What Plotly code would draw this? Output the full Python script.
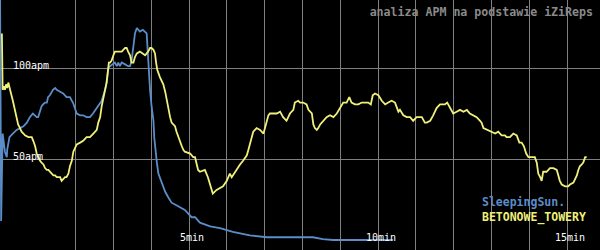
import plotly.graph_objects as go

# SleepingSun. (blue)  time in minutes, APM
sleeping_t = [0.00, 0.03, 0.07, 0.11, 0.13, 0.18, 0.19, 0.25, 0.31, 0.34, 0.44, 0.53, 0.62, 0.71, 0.79,
              0.87, 0.93, 0.97, 1.01, 1.06, 1.10, 1.14, 1.19, 1.24, 1.27, 1.32, 1.37, 1.40, 1.46, 1.50,
              1.59, 1.67, 1.76, 1.85, 1.90, 1.93, 1.98, 2.03, 2.12, 2.20, 2.29, 2.38, 2.46, 2.56, 2.65,
              2.69, 2.78, 2.82, 2.85, 2.87, 2.91, 2.99, 3.04, 3.09, 3.13, 3.17, 3.22, 3.31, 3.39, 3.44,
              3.48, 3.53, 3.57, 3.62, 3.66, 3.70, 3.78, 3.84, 3.88, 3.90, 3.92, 3.95, 3.97, 4.01, 4.06,
              4.08, 4.12, 4.15, 4.19, 4.28, 4.37, 4.45, 4.54, 4.63, 4.81, 4.89, 4.98, 5.07, 5.16, 5.29,
              5.56, 5.82, 6.16, 6.61, 7.06, 7.49, 8.28, 8.54, 8.81, 10.40]
sleeping_apm = [150, 16, 64, 57, 54, 51, 55, 62, 63, 64, 66, 67, 68, 70, 73,
                75, 74, 73, 73, 77, 79, 80, 81, 81, 84, 85, 87, 88, 89, 88,
                87, 86, 84, 84, 82, 81, 78, 75, 74, 74, 73, 73, 75, 78, 81,
                82, 88, 92, 97, 100, 101, 102, 103, 101, 103, 101, 103, 102, 101, 101,
                104, 112, 119, 122, 121, 120, 121, 120, 119, 112, 103, 95, 88, 79, 71,
                62, 53, 48, 42, 37, 32, 29, 26, 25, 23, 22, 20, 18, 18, 15,
                13, 12, 10, 8, 7, 7, 7, 6, 5.5, 5.5]

# BETONOWE_TOWERY (yellow)
beton_t = [0.05, 0.07, 0.11, 0.13, 0.16, 0.19, 0.22, 0.25, 0.28, 0.34, 0.37, 0.40, 0.44, 0.48, 0.53,
           0.57, 0.62, 0.66, 0.75, 0.79, 0.84, 0.88, 0.93, 0.97, 1.01, 1.06, 1.10, 1.15, 1.19, 1.24,
           1.28, 1.32, 1.37, 1.41, 1.46, 1.50, 1.54, 1.59, 1.63, 1.67, 1.72, 1.76, 1.81, 1.85, 1.90,
           1.94, 1.98, 2.03, 2.12, 2.20, 2.29, 2.38, 2.47, 2.56, 2.60, 2.65, 2.69, 2.73, 2.78, 2.82,
           2.87, 2.88, 2.91, 2.95, 3.00, 3.04, 3.13, 3.22, 3.31, 3.35, 3.39, 3.44, 3.48, 3.53, 3.57,
           3.62, 3.70, 3.79, 3.84, 3.88, 3.92, 3.97, 4.01, 4.06, 4.10, 4.13, 4.16, 4.23, 4.28, 4.32,
           4.37, 4.41, 4.45, 4.50, 4.54, 4.63, 4.67, 4.72, 4.76, 4.81, 4.85, 4.89, 5.03, 5.11, 5.16,
           5.24, 5.29, 5.42, 5.50, 5.60, 5.63, 5.73, 5.82, 5.90, 6.00, 6.08, 6.13, 6.16, 6.26, 6.35,
           6.43, 6.53, 6.57, 6.61, 6.66, 6.70, 6.79, 6.88, 6.97, 7.01, 7.06, 7.10, 7.14, 7.32, 7.41,
           7.45, 7.49, 7.58, 7.63, 7.67, 7.76, 7.80, 7.89, 7.94, 8.02, 8.11, 8.16, 8.25, 8.29, 8.33,
           8.38, 8.42, 8.47, 8.55, 8.64, 8.73, 8.82, 8.91, 8.99, 9.08, 9.17, 9.24, 9.30, 9.39, 9.48,
           9.57, 9.66, 9.74, 9.81, 9.86, 9.92, 10.01, 10.10, 10.19, 10.27, 10.36, 10.45, 10.54, 10.58, 10.67,
           10.76, 10.85, 10.93, 11.02, 11.16, 11.24, 11.29, 11.38, 11.46, 11.55, 11.64, 11.77, 11.83, 11.90, 11.99,
           12.08, 12.17, 12.26, 12.35, 12.43, 12.52, 12.61, 12.70, 12.74, 12.79, 12.88, 13.01, 13.10, 13.18, 13.27,
           13.36, 13.40, 13.49, 13.58, 13.67, 13.74, 13.80, 13.86, 13.92, 13.98, 14.07, 14.15, 14.20, 14.24, 14.29,
           14.33, 14.37, 14.46, 14.55, 14.64, 14.73, 14.77, 14.81, 14.86, 14.95, 15.03, 15.08, 15.17, 15.26, 15.30,
           15.34, 15.39, 15.43, 15.48, 15.52]
beton_apm = [119, 88, 90, 88, 91, 89, 92, 90, 87, 82, 79, 75, 71, 69, 67,
             65, 64, 63, 62, 62, 62, 60, 57, 53, 51, 49, 48, 47, 45, 44,
             44, 43, 42, 41, 41, 40, 40, 40, 38, 39, 40, 40, 42, 46, 49,
             54, 56, 58, 59, 60, 62, 62, 64, 66, 70, 73, 79, 84, 88, 92,
             99, 103, 103, 104, 107, 109, 109, 109, 111, 111, 109, 107, 103, 103, 106,
             108, 109, 108, 107, 108, 109, 111, 111, 110, 108, 103, 99, 95, 93, 91,
             87, 82, 77, 73, 70, 68, 65, 62, 59, 57, 55, 54, 53, 51, 51,
             44, 43, 44, 40, 34, 31, 33, 34, 35, 38, 42, 40, 41, 44, 47,
             49, 52, 55, 59, 62, 65, 67, 66, 64, 67, 71, 74, 75, 75, 76,
             74, 73, 71, 73, 75, 77, 81, 82, 81, 81, 80, 77, 75, 69, 67,
             66, 67, 69, 71, 73, 74, 73, 75, 78, 81, 81, 84, 81, 80, 80,
             81, 81, 81, 80, 85, 86, 85, 82, 80, 81, 82, 81, 76, 77, 74,
             73, 73, 71, 73, 73, 70, 70, 71, 74, 78, 80, 80, 81, 78, 75,
             76, 77, 76, 77, 75, 74, 73, 71, 70, 67, 66, 65, 64, 65, 63,
             63, 62, 62, 64, 63, 59, 59, 57, 53, 51, 51, 51, 48, 42, 40,
             38, 43, 43, 45, 45, 44, 40, 38, 36, 35, 35, 36, 37, 41, 44,
             46, 47, 48, 51, 51]

minute_ticks = list(range(1, 16))
minute_labels = ["", "", "", "", "5min", "", "", "", "", "10min", "", "", "", "", "15min"]
apm_ticks = [50, 100]
apm_labels = ["50apm", "100apm"]

title_text = "analiza APM na podstawie iZiReps"
series_names = ["SleepingSun.", "BETONOWE_TOWERY"]
series_colors = ["#5b8dc9", "#f0f07a"]

MONO = "DejaVu Sans Mono"

fig = go.Figure()
fig.add_trace(go.Scatter(x=sleeping_t, y=sleeping_apm, mode="lines", name=series_names[0],
                         line=dict(color=series_colors[0], width=1.8), cliponaxis=True))
fig.add_trace(go.Scatter(x=beton_t, y=beton_apm, mode="lines", name=series_names[1],
                         line=dict(color=series_colors[1], width=1.8), cliponaxis=True))

# legend as coloured text lines (bottom right)
for i, (nm, col) in enumerate(zip(series_names, series_colors)):
    fig.add_annotation(text=nm, xref="paper", yref="paper", x=480 / 600, y=1 - (202 + i * 15) / 250,
                       xanchor="left", yanchor="middle", showarrow=False,
                       font=dict(family=MONO, size=11.5, color=col, weight="bold"))

fig.update_layout(
    width=600, height=250,
    margin=dict(l=0, r=0, t=0, b=0),
    paper_bgcolor="black", plot_bgcolor="black",
    showlegend=False,
    title=dict(text=title_text, x=593 / 600, xanchor="right", xref="paper",
               y=1 - 11.5 / 250, yanchor="middle",
               font=dict(family=MONO, size=11.6, color="#8a8a8a", weight="bold")),
    xaxis=dict(range=[0, 600 / 37.8], tickmode="array", tickvals=minute_ticks, ticktext=minute_labels,
               showgrid=True, gridcolor="#808080", gridwidth=1, zeroline=False, showline=False,
               ticks="", ticklabelposition="inside", ticklabelshift=3, ticklabelstandoff=4,
               tickfont=dict(family=MONO, size=10, color="white"), fixedrange=True),
    yaxis=dict(range=[0, 250 * 50 / 91], tickmode="array", tickvals=apm_ticks, ticktext=apm_labels,
               showgrid=True, gridcolor="#808080", gridwidth=1, zeroline=False, showline=False,
               ticks="", ticklabelposition="inside top", ticklabelstandoff=10, ticklabelshift=4,
               tickfont=dict(family=MONO, size=10, color="white"), fixedrange=True),
)

fig.write_html("out.html")
